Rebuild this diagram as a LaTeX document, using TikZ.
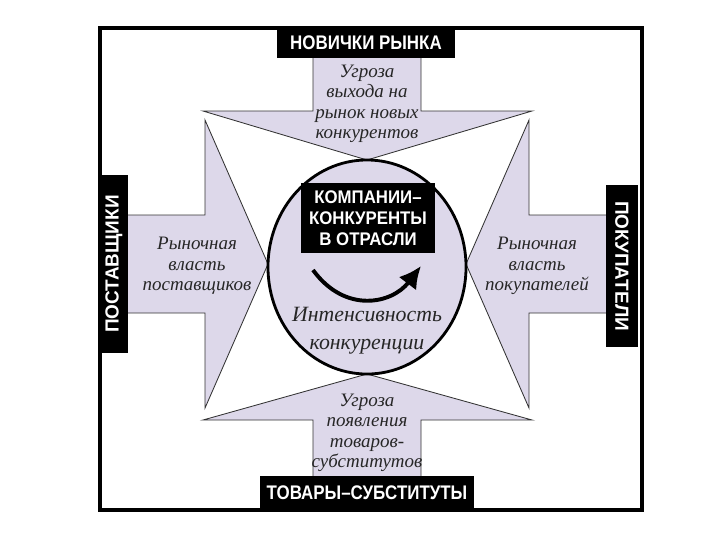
\documentclass[tikz,border=0pt]{standalone}
\usepackage{fontspec}
\setmainfont{Liberation Serif}
\setsansfont{Liberation Sans}
\newfontfamily\narrowbox[FakeStretch=0.86]{Liberation Sans Bold}
\newfontfamily\middlebox[FakeStretch=0.92]{Liberation Sans Bold}
\newfontfamily\sidebox{Liberation Sans Bold}
\usetikzlibrary{shapes.geometric, arrows.meta, positioning}
\definecolor{forcefill}{RGB}{221,216,234}
\tikzset{
  labelbox/.style={fill=black, text=white, inner sep=0pt,
    font=\narrowbox\fontsize{14}{16}\selectfont},
  forcetext/.style={align=center, text=black!85,
    font=\itshape\fontsize{13.5}{14.5}\selectfont},
  forcearrow/.style={fill=forcefill, draw=black!80, line width=0.6pt},
}

\begin{document}
\begin{tikzpicture}[x=0.025cm, y=-0.025cm]
        \useasboundingbox (0,0) rectangle (720,540);

        % Outer frame
        \draw[line width=2.2pt] (100,28) rectangle (642,510);

        % Force arrows (new entrants, substitutes, suppliers, buyers)
        \draw[forcearrow] (313,58) -- (313,111) -- (203,111) -- (367,160) -- (532,111) -- (421,111) -- (421,58);
        \draw[forcearrow] (313,477) -- (313,420) -- (203,420) -- (367,374) -- (532,420) -- (421,420) -- (421,477);
        \draw[forcearrow] (128,215) -- (205,215) -- (205,120) -- (268,264) -- (205,408) -- (205,313) -- (128,313);
        \draw[forcearrow] (606,215) -- (529,215) -- (529,120) -- (466,264) -- (529,408) -- (529,313) -- (606,313);

        % Rivalry circle
        \node[ellipse, draw, fill=forcefill, line width=2pt, minimum width=4.95cm, minimum height=5.35cm] (rivalry) at (367,267) {};
        \node[labelbox, align=center, minimum width=3.33cm, minimum height=1.73cm,
              font=\middlebox\fontsize{13}{14.8}\selectfont] (rivals) at (368,218) {КОМПАНИИ–\\КОНКУРЕНТЫ\\В ОТРАСЛИ};
        \coordinate (swirl from) at (313,270);
        \coordinate (swirl to) at (421,266);
        \draw[line width=2.8pt, -{Latex[length=5.5mm,width=5.5mm]}] (swirl from) .. controls (345,314) and (392,304) .. (swirl to);
        \node[forcetext, font=\itshape\fontsize{15.5}{20}\selectfont] (intensity) at (367,331) {Интенсивность\\конкуренции};

        % Outside forces
        \node[labelbox, minimum width=4.43cm, minimum height=0.75cm] (entrants) at (366,43) {НОВИЧКИ РЫНКА};
        \node[labelbox, minimum width=5.35cm, minimum height=0.83cm] (substitutes) at (367,493) {ТОВАРЫ–СУБСТИТУТЫ};
        \node[labelbox, font=\sidebox\fontsize{13.5}{16}\selectfont, rotate=90, minimum width=4.45cm, minimum height=0.7cm] (suppliers) at (114,264) {ПОСТАВЩИКИ};
        \node[labelbox, font=\sidebox\fontsize{13.5}{16}\selectfont, rotate=-90, minimum width=4.05cm, minimum height=0.8cm] (buyers) at (622,266) {ПОКУПАТЕЛИ};

        % Arrow texts
        \node[forcetext] (entry threat) at (367,104) {Угроза\\выхода на\\рынок новых\\конкурентов};
        \node[forcetext] (subst threat) at (367,433) {Угроза\\появления\\товаров-\\субститутов};
        \node[forcetext] (supplier power) at (197,266) {Рыночная\\власть\\поставщиков};
        \node[forcetext] (buyer power) at (537,266) {Рыночная\\власть\\покупателей};
\end{tikzpicture}
\end{document}
